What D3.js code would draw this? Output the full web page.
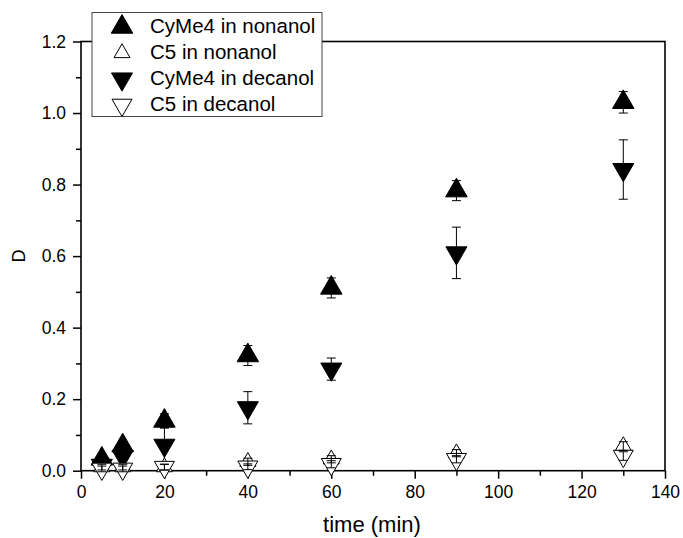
<!DOCTYPE html>
<html>
<head>
<meta charset="utf-8">
<script src="https://cdn.jsdelivr.net/npm/d3@7"></script>
<style>
    body { margin: 0; background: #fff; }
    svg text { font-family: Arial, "Liberation Sans", Helvetica, sans-serif; }
</style>
</head>
<body>
<div id="chart"></div>
<script>
"use strict";

// 数据
var times = [5, 10, 20, 40, 60, 90, 130];
var cyme4Nonanol = [0.033, 0.07, 0.139, 0.322, 0.511, 0.783, 1.030];
var cyme4NonanolErr = [0.01, 0.01, 0.02, 0.028, 0.028, 0.028, 0.03];
var c5Nonanol = [0.01, 0.01, 0.01, 0.025, 0.032, 0.049, 0.069];
var c5NonanolErr = [0.008, 0.008, 0.008, 0.01, 0.01, 0.01, 0.012];
var cyme4Decanol = [0.015, 0.04, 0.071, 0.176, 0.284, 0.609, 0.842];
var cyme4DecanolErr = [0.01, 0.01, 0.05, 0.045, 0.031, 0.072, 0.083];
var c5Decanol = [0.005, 0.005, 0.01, 0.011, 0.018, 0.032, 0.041];
var c5DecanolErr = [0.008, 0.008, 0.008, 0.008, 0.01, 0.01, 0.012];

var xTicks = [0, 20, 40, 60, 80, 100, 120, 140];
var yTicks = [0.0, 0.2, 0.4, 0.6, 0.8, 1.0, 1.2];
var seriesNames = ["CyMe4 in nonanol", "C5 in nonanol", "CyMe4 in decanol", "C5 in decanol"];

var W = 683, H = 538;
var margin = {left: 81, top: 41.5, right: 18, bottom: 67.3};
var width = W - margin.left - margin.right;
var height = H - margin.top - margin.bottom;

// 系列样式: 方向, 填充, 边长
var series = [
    {name: seriesNames[0], vals: cyme4Nonanol, err: cyme4NonanolErr, down: false, fill: "#000", side: 21.5},
    {name: seriesNames[1], vals: c5Nonanol, err: c5NonanolErr, down: false, fill: "#fff", side: 16},
    {name: seriesNames[2], vals: cyme4Decanol, err: cyme4DecanolErr, down: true, fill: "#000", side: 21},
    {name: seriesNames[3], vals: c5Decanol, err: c5DecanolErr, down: true, fill: "#fff", side: 20}
];

var svg = d3.select("#chart").append("svg")
    .attr("width", W).attr("height", H);

var g = svg.append("g")
    .attr("transform", "translate(" + margin.left + "," + margin.top + ")");

var x = d3.scaleLinear().domain([0, 140]).range([0, width]);
var y = d3.scaleLinear().domain([0, 1.2]).range([height, 0]);

//三角形符号
function triPath(side) {
    var area = Math.sqrt(3) / 4 * side * side;
    return d3.symbol().type(d3.symbolTriangle).size(area)();
}

//x轴
var xAxis = g.append("g")
    .attr("transform", "translate(0," + height + ")")
    .call(d3.axisBottom(x).tickValues(xTicks).tickSize(8).tickPadding(7).tickFormat(d3.format("d")));
var xMinor = g.append("g")
    .attr("transform", "translate(0," + height + ")")
    .call(d3.axisBottom(x).tickValues(d3.range(10, 140, 20)).tickSize(5).tickFormat(""));

//y轴
var yAxis = g.append("g")
    .call(d3.axisLeft(y).tickValues(yTicks).tickSize(8).tickPadding(7).tickFormat(d3.format(".1f")));
var yMinor = g.append("g")
    .call(d3.axisLeft(y).tickValues([0.1, 0.3, 0.5, 0.7, 0.9, 1.1]).tickSize(5).tickFormat(""));

[xAxis, xMinor, yAxis, yMinor].forEach(function(a) {
    a.attr("font-family", null).attr("font-size", null);
    a.select(".domain").remove();
    a.selectAll("line").attr("stroke", "#000").attr("stroke-width", 1.5);
    a.selectAll("text").attr("fill", "#000").style("font-size", "17.5px");
});

//边框
g.append("rect")
    .attr("x", 0).attr("y", 0)
    .attr("width", width).attr("height", height)
    .attr("fill", "none").attr("stroke", "#000").attr("stroke-width", 1.6);

//坐标轴标题
svg.append("text")
    .attr("x", 372)
    .attr("y", 532)
    .attr("text-anchor", "middle")
    .style("font-size", "22px")
    .text("time (min)");

svg.append("text")
    .attr("transform", "translate(25," + (margin.top + y(0.6)) + ") rotate(-90)")
    .attr("text-anchor", "middle")
    .style("font-size", "18px")
    .text("D");

//误差线
var capW = 4.5;
function drawErr(parent, s) {
    var eg = parent.append("g").attr("stroke", "#000").attr("stroke-width", 1);
    times.forEach(function(t, i) {
        var cx = x(t), lo = y(s.vals[i] - s.err[i]), hi = y(s.vals[i] + s.err[i]);
        eg.append("line").attr("x1", cx).attr("x2", cx).attr("y1", lo).attr("y2", hi);
        eg.append("line").attr("x1", cx - capW).attr("x2", cx + capW).attr("y1", lo).attr("y2", lo);
        eg.append("line").attr("x1", cx - capW).attr("x2", cx + capW).attr("y1", hi).attr("y2", hi);
    });
}

var plot = g.append("g");
// 实心系列的误差线在符号下面
series.filter(function(s) { return s.fill === "#000"; }).forEach(function(s) { drawErr(plot, s); });

//数据点
series.forEach(function(s) {
    plot.selectAll(null)
        .data(times.map(function(t, i) { return {t: t, v: s.vals[i]}; }))
        .enter()
        .append("path")
        .attr("d", triPath(s.side))
        .attr("transform", function(d) {
            return "translate(" + x(d.t) + "," + y(d.v) + ")" + (s.down ? " rotate(180)" : "");
        })
        .attr("fill", s.fill)
        .attr("stroke", "#000")
        .attr("stroke-width", 1);
});

// 空心系列的误差线在符号上面
series.filter(function(s) { return s.fill === "#fff"; }).forEach(function(s) { drawErr(plot, s); });

//图例
var legend = svg.append("g");
legend.append("rect")
    .attr("x", 92).attr("y", 12.5)
    .attr("width", 230).attr("height", 104)
    .attr("fill", "#fff").attr("stroke", "#444").attr("stroke-width", 1);

series.forEach(function(s, i) {
    var by = 33 + i * 26;
    legend.append("path")
        .attr("d", triPath(s.side))
        .attr("transform", "translate(122," + (by - 6) + ")" + (s.down ? " rotate(180)" : ""))
        .attr("fill", s.fill)
        .attr("stroke", "#000")
        .attr("stroke-width", 1);
    legend.append("text")
        .attr("x", 150).attr("y", by)
        .style("font-size", "20.5px")
        .text(s.name);
});
</script>
</body>
</html>
